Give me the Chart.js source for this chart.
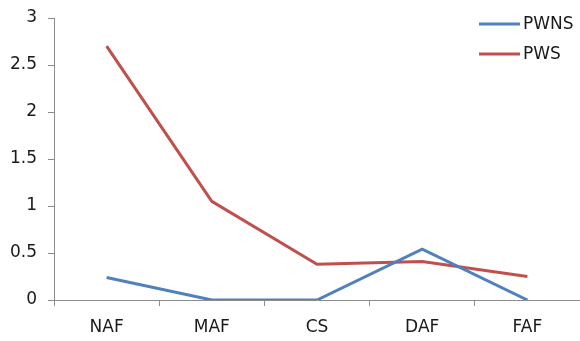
<!DOCTYPE html>
<html>
<head>
<meta charset="utf-8">
<script src="https://cdn.jsdelivr.net/npm/chart.js@4/dist/chart.umd.min.js"></script>
<style>
  html, body { margin: 0; padding: 0; background: #ffffff; }
  #wrap { width: 580px; height: 341px; position: relative; }
</style>
</head>
<body>
<div id="wrap"><canvas id="c"></canvas></div>
<script>
// Categories and series values
const categories = ['NAF', 'MAF', 'CS', 'DAF', 'FAF'];
const pwns = [0.24, 0, 0, 0.54, 0];
const pws = [2.70, 1.05, 0.38, 0.41, 0.25];
const seriesNames = ['PWNS', 'PWS'];
const seriesColors = ['#4F81BD', '#C0504D'];

const FONT = 'DejaVu Sans';
const FONT_SIZE = 17;
const TEXT = '#1a1a1a';
const AXIS = '#8c8c8c';

// Legend drawn at the top right, over the plot area
const cornerLegend = {
  id: 'cornerLegend',
  afterDraw(chart) {
    const ctx = chart.ctx;
    ctx.save();
    chart.data.datasets.forEach((ds, i) => {
      const y = 24 + i * 30;
      ctx.strokeStyle = ds.borderColor;
      ctx.lineWidth = 3;
      ctx.beginPath();
      ctx.moveTo(479, y);
      ctx.lineTo(520, y);
      ctx.stroke();
      ctx.fillStyle = TEXT;
      ctx.font = FONT_SIZE + 'px "' + FONT + '"';
      ctx.textBaseline = 'middle';
      ctx.textAlign = 'left';
      ctx.fillText(ds.label, 523, y + 1);
    });
    ctx.restore();
  }
};

new Chart(document.getElementById('c'), {
  type: 'line',
  data: {
    labels: categories,
    datasets: [
      { label: seriesNames[0], data: pwns, borderColor: seriesColors[0], backgroundColor: seriesColors[0] },
      { label: seriesNames[1], data: pws, borderColor: seriesColors[1], backgroundColor: seriesColors[1] }
    ]
  },
  options: {
    responsive: true,
    maintainAspectRatio: false,
    animation: false,
    layout: { padding: { top: 18, right: 0, bottom: 0, left: 0 } },
    elements: {
      line: { borderWidth: 3, tension: 0, borderCapStyle: 'butt', borderJoinStyle: 'miter' },
      point: { radius: 0, hoverRadius: 0 }
    },
    plugins: { legend: { display: false }, tooltip: { enabled: false } },
    scales: {
      x: {
        offset: true,
        grid: { offset: true, drawOnChartArea: false, drawTicks: true, tickLength: 6, color: AXIS, lineWidth: 1 },
        border: { color: AXIS, width: 1 },
        ticks: { color: TEXT, font: { family: FONT, size: FONT_SIZE }, padding: 11, maxRotation: 0 },
        afterFit(scale) { scale.height = 41; scale.paddingLeft = 0; scale.paddingRight = 0; }
      },
      y: {
        min: 0,
        max: 3,
        grid: { drawOnChartArea: false, drawTicks: true, tickLength: 6, color: AXIS, lineWidth: 1 },
        border: { color: AXIS, width: 1 },
        ticks: {
          stepSize: 0.5,
          color: TEXT,
          font: { family: FONT, size: FONT_SIZE },
          padding: 11,
          callback: (v) => String(Number(v))
        },
        afterFit(scale) { scale.width = 54; scale.paddingTop = 0; scale.paddingBottom = 0; }
      }
    }
  },
  plugins: [cornerLegend]
});
</script>
</body>
</html>
